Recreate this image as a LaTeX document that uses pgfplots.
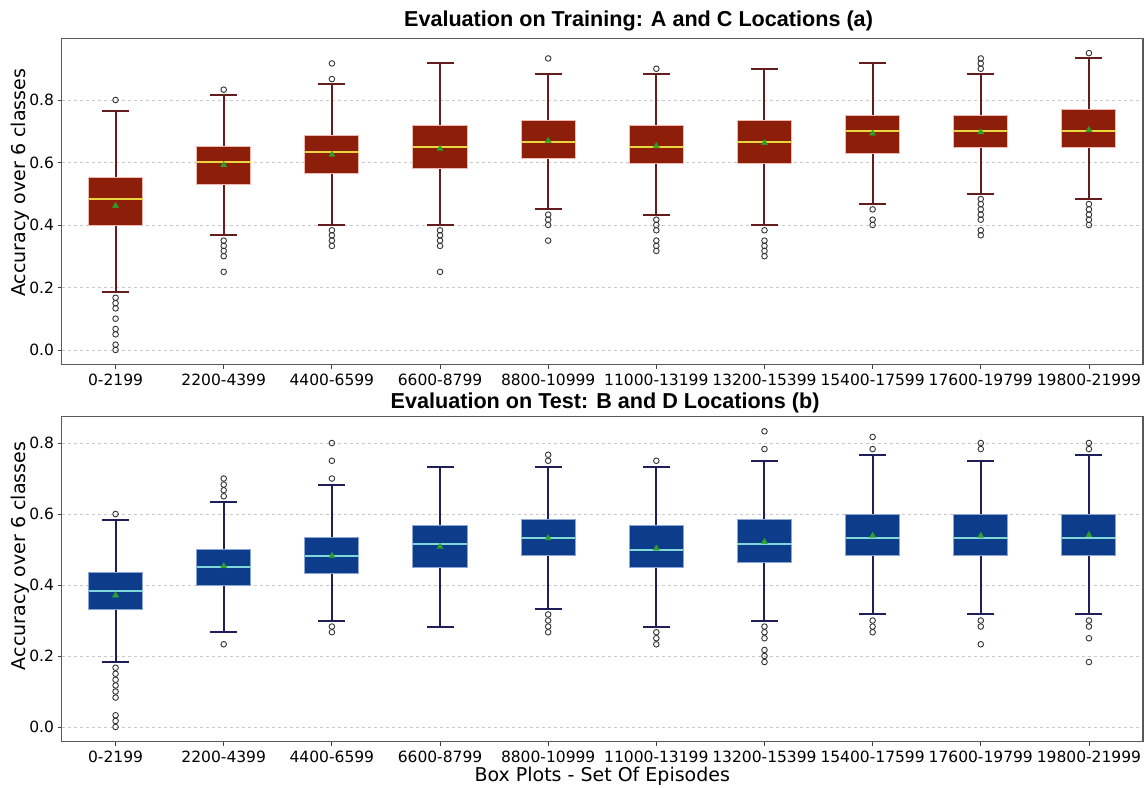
\documentclass[border=0pt]{standalone}
\usepackage{fontspec}
\setmainfont{DejaVu Sans}
\newfontfamily\arialfont{Liberation Sans}
\usepackage{pgfplots}
\pgfplotsset{compat=1.18}
\usepgfplotslibrary{statistics}
\definecolor{boxred}{RGB}{140,30,10}
\definecolor{boxredEdge}{RGB}{240,185,175}
\definecolor{whiskred}{RGB}{100,28,28}
\definecolor{medyellow}{RGB}{232,214,60}
\definecolor{boxblue}{RGB}{13,61,138}
\definecolor{boxblueEdge}{RGB}{140,165,215}
\definecolor{whiskblue}{RGB}{30,30,90}
\definecolor{medcyan}{RGB}{127,215,215}
\definecolor{meangreen}{RGB}{44,160,44}
\definecolor{gridgray}{RGB}{200,200,200}
\begin{document}
\begin{tikzpicture}
\pgfplotsset{
  common/.style={
    scale only axis, width=1081.5pt,
    xmin=0.5, xmax=10.5,
    xtick={1,2,3,4,5,6,7,8,9,10},
    xticklabels={0-2199,2200-4399,4400-6599,6600-8799,8800-10999,11000-13199,13200-15399,15400-17599,17600-19799,19800-21999},
    ytick={0,0.2,0.4,0.6,0.8},
    /pgf/number format/assume math mode=true,
    tick label style={font=\fontsize{15.5}{18}\selectfont},
    xticklabel style={yshift=-2pt},
    yticklabel style={/pgf/number format/.cd, fixed, fixed zerofill, precision=1},
    label style={font=\fontsize{19}{22}\selectfont},
    ylabel={Accuracy over 6 classes},
    tick align=outside, xtick pos=bottom, ytick pos=left,
    major tick length=4pt,
    tick style={draw=black!75, line width=0.8pt},
    axis line style={draw=black!65, line width=1.2pt},
    ymajorgrids, grid style={dashed, draw=gridgray, line width=0.7pt},
    boxplot/draw direction=y,
    boxplot/box extend=0.5, boxplot/whisker extend=0.25,
    title style={font=\arialfont\bfseries\fontsize{21.6}{26}\selectfont, anchor=base west},
  },
  redbox/.style={
    boxplot/every box/.style={fill=boxred, draw=boxredEdge, line width=1pt},
    boxplot/every whisker/.style={draw=whiskred, line width=2pt},
    boxplot/every median/.style={draw=medyellow, line width=2pt},
    draw=whiskred, mark=o, mark size=2.8pt, mark options={draw=black!80, fill=white, line width=0.9pt, solid},
  },
  bluebox/.style={
    boxplot/every box/.style={fill=boxblue, draw=boxblueEdge, line width=1pt},
    boxplot/every whisker/.style={draw=whiskblue, line width=2pt},
    boxplot/every median/.style={draw=medcyan, line width=2pt},
    draw=whiskblue, mark=o, mark size=2.8pt, mark options={draw=black!80, fill=white, line width=0.9pt, solid},
  },
  meanmk/.style={only marks, mark=triangle*, mark size=3.6pt, mark options={fill=meangreen, draw=meangreen, line width=0.3pt}},
}
% ---------- (a) training ----------
\begin{axis}[common, at={(61.5pt,422.2pt)}, anchor=south west, height=326.5pt,
  ymin=-0.0475, ymax=0.9975,
  ylabel style={at={(axis description cs:-0.0337,0.557)}, anchor=base},
  title={Evaluation on Training: A and C Locations (a)},
  title style={at={(axis description cs:0.3135,1)}, yshift=5.5pt},
]
\addplot[redbox, boxplot prepared={draw position=1, lower whisker=0.185, lower quartile=0.399, median=0.483, upper quartile=0.551, upper whisker=0.766}] coordinates {(1,0.80) (1,0.167) (1,0.15) (1,0.133) (1,0.10) (1,0.067) (1,0.05) (1,0.017) (1,0.0)};
\addplot[redbox, boxplot prepared={draw position=2, lower whisker=0.367, lower quartile=0.530, median=0.600, upper quartile=0.651, upper whisker=0.816}] coordinates {(2,0.833) (2,0.35) (2,0.333) (2,0.317) (2,0.30) (2,0.25)};
\addplot[redbox, boxplot prepared={draw position=3, lower whisker=0.400, lower quartile=0.564, median=0.634, upper quartile=0.685, upper whisker=0.850}] coordinates {(3,0.917) (3,0.867) (3,0.383) (3,0.367) (3,0.35) (3,0.333)};
\addplot[redbox, boxplot prepared={draw position=4, lower whisker=0.400, lower quartile=0.581, median=0.650, upper quartile=0.718, upper whisker=0.917}] coordinates {(4,0.383) (4,0.367) (4,0.35) (4,0.333) (4,0.25)};
\addplot[redbox, boxplot prepared={draw position=5, lower whisker=0.450, lower quartile=0.614, median=0.667, upper quartile=0.735, upper whisker=0.883}] coordinates {(5,0.933) (5,0.433) (5,0.417) (5,0.40) (5,0.35)};
\addplot[redbox, boxplot prepared={draw position=6, lower whisker=0.433, lower quartile=0.597, median=0.650, upper quartile=0.718, upper whisker=0.883}] coordinates {(6,0.90) (6,0.417) (6,0.40) (6,0.383) (6,0.35) (6,0.333) (6,0.317)};
\addplot[redbox, boxplot prepared={draw position=7, lower whisker=0.400, lower quartile=0.597, median=0.666, upper quartile=0.735, upper whisker=0.900}] coordinates {(7,0.383) (7,0.35) (7,0.333) (7,0.317) (7,0.30)};
\addplot[redbox, boxplot prepared={draw position=8, lower whisker=0.467, lower quartile=0.630, median=0.700, upper quartile=0.751, upper whisker=0.917}] coordinates {(8,0.45) (8,0.417) (8,0.40)};
\addplot[redbox, boxplot prepared={draw position=9, lower whisker=0.500, lower quartile=0.647, median=0.700, upper quartile=0.751, upper whisker=0.883}] coordinates {(9,0.933) (9,0.917) (9,0.90) (9,0.483) (9,0.467) (9,0.45) (9,0.433) (9,0.417) (9,0.383) (9,0.367)};
\addplot[redbox, boxplot prepared={draw position=10, lower whisker=0.483, lower quartile=0.647, median=0.700, upper quartile=0.768, upper whisker=0.933}] coordinates {(10,0.95) (10,0.467) (10,0.45) (10,0.433) (10,0.417) (10,0.40)};
\addplot[meanmk] coordinates {(1,0.461) (2,0.592) (3,0.625) (4,0.644) (5,0.669) (6,0.653) (7,0.663) (8,0.693) (9,0.697) (10,0.704)};
\end{axis}
% ---------- (b) test ----------
\begin{axis}[common, at={(61.5pt,45.2pt)}, anchor=south west, height=325.4pt,
  ymin=-0.0417, ymax=0.875,
  ylabel style={at={(axis description cs:-0.0337,0.571)}, anchor=base},
  title={Evaluation on Test: B and D Locations (b)},
  title style={at={(axis description cs:0.3011,1)}, yshift=1.5pt},
  xlabel={Box Plots - Set Of Episodes},
  xlabel style={at={(axis description cs:0.5,-0.123)}, anchor=base},
]
\addplot[bluebox, boxplot prepared={draw position=1, lower whisker=0.183, lower quartile=0.332, median=0.383, upper quartile=0.435, upper whisker=0.584}] coordinates {(1,0.60) (1,0.167) (1,0.15) (1,0.133) (1,0.117) (1,0.10) (1,0.083) (1,0.033) (1,0.017) (1,0.0)};
\addplot[bluebox, boxplot prepared={draw position=2, lower whisker=0.267, lower quartile=0.400, median=0.450, upper quartile=0.500, upper whisker=0.633}] coordinates {(2,0.70) (2,0.683) (2,0.667) (2,0.65) (2,0.233)};
\addplot[bluebox, boxplot prepared={draw position=3, lower whisker=0.300, lower quartile=0.432, median=0.483, upper quartile=0.534, upper whisker=0.683}] coordinates {(3,0.80) (3,0.75) (3,0.70) (3,0.283) (3,0.267)};
\addplot[bluebox, boxplot prepared={draw position=4, lower whisker=0.283, lower quartile=0.448, median=0.516, upper quartile=0.568, upper whisker=0.733}] coordinates {};
\addplot[bluebox, boxplot prepared={draw position=5, lower whisker=0.333, lower quartile=0.482, median=0.533, upper quartile=0.585, upper whisker=0.733}] coordinates {(5,0.767) (5,0.75) (5,0.317) (5,0.30) (5,0.283) (5,0.267)};
\addplot[bluebox, boxplot prepared={draw position=6, lower whisker=0.283, lower quartile=0.448, median=0.500, upper quartile=0.568, upper whisker=0.733}] coordinates {(6,0.75) (6,0.267) (6,0.25) (6,0.233)};
\addplot[bluebox, boxplot prepared={draw position=7, lower whisker=0.300, lower quartile=0.464, median=0.516, upper quartile=0.585, upper whisker=0.750}] coordinates {(7,0.833) (7,0.783) (7,0.283) (7,0.267) (7,0.25) (7,0.217) (7,0.20) (7,0.183)};
\addplot[bluebox, boxplot prepared={draw position=8, lower whisker=0.317, lower quartile=0.482, median=0.533, upper quartile=0.600, upper whisker=0.767}] coordinates {(8,0.817) (8,0.783) (8,0.30) (8,0.283) (8,0.267)};
\addplot[bluebox, boxplot prepared={draw position=9, lower whisker=0.317, lower quartile=0.482, median=0.533, upper quartile=0.600, upper whisker=0.750}] coordinates {(9,0.80) (9,0.783) (9,0.30) (9,0.283) (9,0.233)};
\addplot[bluebox, boxplot prepared={draw position=10, lower whisker=0.317, lower quartile=0.482, median=0.533, upper quartile=0.600, upper whisker=0.767}] coordinates {(10,0.80) (10,0.783) (10,0.30) (10,0.283) (10,0.25) (10,0.183)};
\addplot[meanmk] coordinates {(1,0.371) (2,0.453) (3,0.482) (4,0.508) (5,0.532) (6,0.503) (7,0.522) (8,0.539) (9,0.539) (10,0.541)};
\end{axis}
\pgfresetboundingbox
\path[use as bounding box] (0pt,0pt) rectangle (1148pt,787pt);
\end{tikzpicture}
\end{document}
